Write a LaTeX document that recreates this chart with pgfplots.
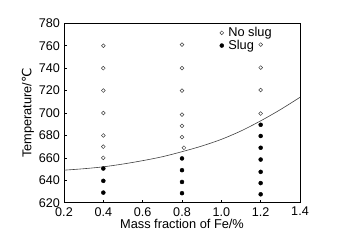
\documentclass[border=0pt]{standalone}
\usepackage{fontspec}
\setmainfont{Liberation Sans}
\newfontfamily\dejavu{DejaVu Sans}
\usepackage{pgfplots}
\pgfplotsset{compat=1.18}
\begin{document}
\begin{tikzpicture}
\begin{axis}[
  at={(64pt,44.3pt)}, anchor=south west,
  scale only axis, width=236pt, height=179.4pt,
  xmin=0.2, xmax=1.4, ymin=620, ymax=780,
  xtick={0.2,0.4,...,1.4},
  ytick={620,640,...,780},
  xticklabel style={yshift=-1pt, /pgf/number format/fixed, /pgf/number format/fixed zerofill, /pgf/number format/precision=1},
  /pgf/number format/assume math mode=true,
  tick label style={font=\fontsize{12.6}{14}\selectfont},
  yticklabel style={xshift=-0.5pt},
  label style={font=\fontsize{12.8}{14}\selectfont},
  xtick pos=bottom, ytick pos=left,
  tick align=inside, major tick length=3pt,
  axis line style={line width=0.8pt},
  tick style={line width=0.6pt, black},
  xlabel={Mass fraction of Fe/\%},
  ylabel={Temperature/{\dejavu ℃}},
  xlabel style={yshift=4pt},
  ylabel style={yshift=-2pt},
  legend style={draw=none, fill=none, at={(0.655,0.995)}, anchor=north west,
    font=\fontsize{12.8}{14}\selectfont, inner sep=1pt, row sep=-2pt},
  legend cell align=left,
]
\addplot[only marks, mark=o, mark size=1.9pt, mark options={draw=black!75, line width=0.5pt}]
  coordinates {
  (0.4,760) (0.4,740) (0.4,720) (0.4,700) (0.4,680) (0.4,670) (0.4,660)
  (0.8,761) (0.8,740) (0.8,720) (0.8,698.5) (0.8,688.5) (0.8,678.5) (0.81,669)
  (1.2,761) (1.2,740.5) (1.2,720.5) (1.2,699.5)
  };
\addlegendentry{\hspace{2.5pt}No slug}
\addplot[only marks, mark=*, mark size=2pt, mark options={fill=black, draw=black}]
  coordinates {
  (0.4,650.5) (0.4,639.5) (0.4,629)
  (0.8,659.5) (0.8,649) (0.8,638.5) (0.8,628.5)
  (1.2,689.5) (1.2,679.5) (1.2,669) (1.2,658.5) (1.2,647.5) (1.2,637.5) (1.2,627.5)
  };
\addlegendentry{\hspace{2.5pt}Slug}
\addplot[smooth, black!75, line width=0.6pt, forget plot]
  coordinates {
  (0.2,649) (0.3,650.3) (0.4,652) (0.5,654.5) (0.6,657.5) (0.7,661)
  (0.8,665.5) (0.9,670.5) (1.0,676.5) (1.1,684) (1.2,693) (1.3,703) (1.4,714)
  };
\end{axis}
\pgfresetboundingbox
\path (0,0) rectangle (347pt,247pt);
\end{tikzpicture}
\end{document}
